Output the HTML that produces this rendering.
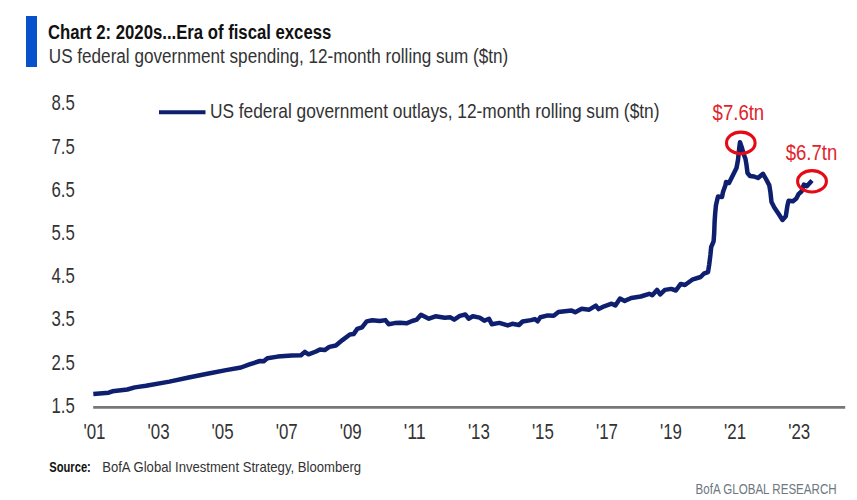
<!DOCTYPE html>
<html><head><meta charset="utf-8"><style>
html,body{margin:0;padding:0;background:#fff;width:857px;height:500px;overflow:hidden}
svg{display:block}
text{font-family:"Liberation Sans",sans-serif}
</style></head><body>
<svg width="857" height="500" viewBox="0 0 857 500">
<rect x="0" y="0" width="857" height="500" fill="#fff"/>
<rect x="26" y="16" width="11" height="51" fill="#0751CC"/>
<text x="48" y="38.8" font-size="20" font-weight="bold" fill="#111" textLength="283.3" lengthAdjust="spacingAndGlyphs">Chart 2: 2020s...Era of fiscal excess</text>
<text x="48.8" y="62.5" font-size="19.5" fill="#333" textLength="459.5" lengthAdjust="spacingAndGlyphs">US federal government spending, 12-month rolling sum ($tn)</text>
<g font-size="22.5" fill="#333">
<text x="74.8" y="110.3" text-anchor="end" textLength="23.3" lengthAdjust="spacingAndGlyphs">8.5</text>
<text x="74.8" y="153.5" text-anchor="end" textLength="23.3" lengthAdjust="spacingAndGlyphs">7.5</text>
<text x="74.8" y="196.7" text-anchor="end" textLength="23.3" lengthAdjust="spacingAndGlyphs">6.5</text>
<text x="74.8" y="239.9" text-anchor="end" textLength="23.3" lengthAdjust="spacingAndGlyphs">5.5</text>
<text x="74.8" y="283.1" text-anchor="end" textLength="23.3" lengthAdjust="spacingAndGlyphs">4.5</text>
<text x="74.8" y="326.3" text-anchor="end" textLength="23.3" lengthAdjust="spacingAndGlyphs">3.5</text>
<text x="74.8" y="369.5" text-anchor="end" textLength="23.3" lengthAdjust="spacingAndGlyphs">2.5</text>
<text x="74.8" y="412.7" text-anchor="end" textLength="23.3" lengthAdjust="spacingAndGlyphs">1.5</text>

<text x="94.5" y="438.5" text-anchor="middle" textLength="22" lengthAdjust="spacingAndGlyphs">'01</text>
<text x="158.6" y="438.5" text-anchor="middle" textLength="22" lengthAdjust="spacingAndGlyphs">'03</text>
<text x="222.6" y="438.5" text-anchor="middle" textLength="22" lengthAdjust="spacingAndGlyphs">'05</text>
<text x="286.7" y="438.5" text-anchor="middle" textLength="22" lengthAdjust="spacingAndGlyphs">'07</text>
<text x="350.7" y="438.5" text-anchor="middle" textLength="22" lengthAdjust="spacingAndGlyphs">'09</text>
<text x="414.8" y="438.5" text-anchor="middle" textLength="22" lengthAdjust="spacingAndGlyphs">'11</text>
<text x="478.9" y="438.5" text-anchor="middle" textLength="22" lengthAdjust="spacingAndGlyphs">'13</text>
<text x="542.9" y="438.5" text-anchor="middle" textLength="22" lengthAdjust="spacingAndGlyphs">'15</text>
<text x="607.0" y="438.5" text-anchor="middle" textLength="22" lengthAdjust="spacingAndGlyphs">'17</text>
<text x="671.0" y="438.5" text-anchor="middle" textLength="22" lengthAdjust="spacingAndGlyphs">'19</text>
<text x="735.1" y="438.5" text-anchor="middle" textLength="22" lengthAdjust="spacingAndGlyphs">'21</text>
<text x="799.2" y="438.5" text-anchor="middle" textLength="22" lengthAdjust="spacingAndGlyphs">'23</text>

</g>
<line x1="159" y1="112.3" x2="205.5" y2="112.3" stroke="#0E1F6F" stroke-width="4"/>
<text x="209.9" y="117.9" font-size="21" fill="#333" textLength="449.6" lengthAdjust="spacingAndGlyphs">US federal government outlays, 12-month rolling sum ($tn)</text>
<line x1="93.2" y1="407.4" x2="845.2" y2="407.4" stroke="#777" stroke-width="2.8"/>
<polyline points="93.3,394.1 108.7,392.7 112.4,391.3 127.3,389.5 134.8,387.4 146.0,385.7 169.4,381.6 188.7,377.5 207.3,373.8 226.0,370.1 241.0,367.5 249.4,364.4 259.9,361.0 263.7,361.3 267.4,358.2 277.7,356.6 291.7,355.4 301.0,355.2 304.8,351.9 308.5,354.3 316.0,351.5 320.0,349.4 324.7,350.1 329.3,346.9 335.9,345.5 342.4,340.1 349.9,334.5 353.6,334.1 357.3,328.9 362.0,327.3 366.7,321.4 372.3,320.3 379.8,321.0 385.4,320.1 388.6,324.2 394.7,323.1 400.0,322.8 406.5,323.3 412.1,321.0 416.8,319.6 421.0,314.8 428.9,318.7 435.5,316.3 444.8,317.7 450.4,317.3 454.2,319.6 459.8,315.9 465.4,314.5 468.6,318.7 472.8,316.3 479.7,317.6 484.3,320.7 489.0,318.7 491.8,324.3 499.3,322.9 507.7,325.4 512.3,323.8 518.9,325.0 522.6,321.5 531.0,320.1 534.8,319.1 537.6,321.3 540.4,317.3 547.8,315.4 553.7,315.8 558.4,312.1 571.5,310.4 575.2,312.3 581.7,308.8 589.2,309.7 595.8,305.7 598.6,309.1 604.2,306.3 611.6,303.7 615.4,305.4 620.0,298.5 624.7,300.9 631.3,298.0 640.8,296.5 649.2,293.8 652.3,295.2 657.0,289.9 660.2,294.4 664.9,289.9 671.2,288.9 675.9,290.5 680.7,283.9 684.9,285.0 692.2,279.7 700.6,277.0 703.8,273.7 708.0,272.1 709.2,264.6 710.4,255.0 711.2,247.0 713.6,241.4 714.2,233.0 714.6,222.0 715.2,213.0 716.0,205.0 718.0,196.5 722.0,197.0 723.0,192.0 725.5,185.0 726.0,182.0 729.0,183.0 733.0,175.0 736.5,168.0 738.0,160.0 739.0,150.0 740.0,142.3 742.0,148.0 744.0,155.0 745.5,159.0 746.5,165.0 747.5,173.0 750.0,176.0 754.0,176.5 758.0,178.0 763.0,173.8 766.0,179.0 769.3,185.4 770.4,192.0 771.5,201.9 774.3,207.4 778.7,214.0 782.5,220.0 785.8,216.2 787.5,205.2 788.6,200.8 793.0,201.3 796.3,198.6 798.5,194.2 801.5,191.5 803.8,184.6 806.8,186.2 812.0,180.5" fill="none" stroke="#0E1F6F" stroke-width="4.5" stroke-linejoin="round" stroke-linecap="butt"/>
<ellipse cx="740.8" cy="142.9" rx="14.3" ry="10.8" fill="none" stroke="#E50A14" stroke-width="3.1"/>
<ellipse cx="812" cy="181.3" rx="14.4" ry="10.7" fill="none" stroke="#E50A14" stroke-width="3.1"/>
<text x="712.6" y="120.4" font-size="22.5" fill="#E0242C" textLength="51.6" lengthAdjust="spacingAndGlyphs">$7.6tn</text>
<text x="785.7" y="159.6" font-size="22.5" fill="#E0242C" textLength="51.5" lengthAdjust="spacingAndGlyphs">$6.7tn</text>
<text x="49.3" y="472.4" font-size="15" font-weight="bold" fill="#111" textLength="41.5" lengthAdjust="spacingAndGlyphs">Source:</text>
<text x="102.2" y="472.4" font-size="15" fill="#333" textLength="258.9" lengthAdjust="spacingAndGlyphs">BofA Global Investment Strategy, Bloomberg</text>
<text x="695.6" y="494" font-size="15.4" fill="#6E767E" textLength="141" lengthAdjust="spacingAndGlyphs">BofA GLOBAL RESEARCH</text>
</svg>
</body></html>
